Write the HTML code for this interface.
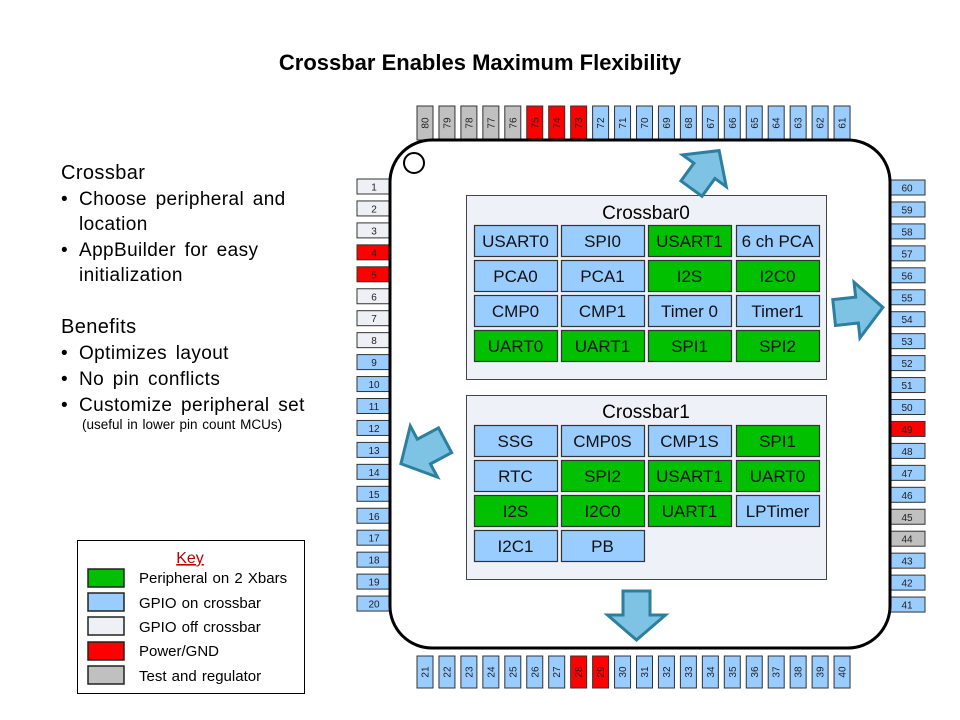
<!DOCTYPE html>
<html><head><meta charset="utf-8"><style>
body{margin:0;background:#fff;}
svg{display:block;font-family:"Liberation Sans",Arial,sans-serif;}
</style></head><body>
<svg width="960" height="720" viewBox="0 0 960 720" xmlns="http://www.w3.org/2000/svg">
<rect width="960" height="720" fill="#fff"/>
<text x="480" y="70" text-anchor="middle" font-size="22" font-weight="bold">Crossbar Enables Maximum Flexibility</text>

<!-- left text -->
<g font-size="19" fill="#000" letter-spacing="0.4" word-spacing="3">
<text x="61" y="179" font-size="20" word-spacing="0">Crossbar</text>
<text x="61" y="205">•</text><text x="79" y="205">Choose peripheral and</text>
<text x="79" y="230">location</text>
<text x="61" y="256">•</text><text x="79" y="256">AppBuilder for easy</text>
<text x="79" y="281">initialization</text>
<text x="61" y="333" font-size="20" word-spacing="0">Benefits</text>
<text x="61" y="359">•</text><text x="79" y="359">Optimizes layout</text>
<text x="61" y="385">•</text><text x="79" y="385">No pin conflicts</text>
<text x="61" y="411">•</text><text x="79" y="411">Customize peripheral set</text>
<text x="82" y="429" font-size="13.5" letter-spacing="0" word-spacing="1">(useful in lower pin count MCUs)</text>
</g>

<!-- key -->
<rect x="77.5" y="540.5" width="227" height="153" fill="#fff" stroke="#000" stroke-width="1"/>
<text x="190" y="563" text-anchor="middle" font-size="16" fill="#c00000" text-decoration="underline">Key</text>
<g stroke="#222" stroke-width="1.5">
<rect x="88" y="569" width="36" height="18" fill="#00c000"/>
<rect x="88" y="593" width="36" height="18" fill="#99ccff"/>
<rect x="88" y="617" width="36" height="18" fill="#eef0f5"/>
<rect x="88" y="642" width="36" height="18" fill="#ff0000"/>
<rect x="88" y="666" width="36" height="18" fill="#c0c0c0"/>
</g>
<g font-size="15" fill="#000" word-spacing="1">
<text x="139" y="583">Peripheral on 2 Xbars</text>
<text x="139" y="608">GPIO on crossbar</text>
<text x="139" y="632">GPIO off crossbar</text>
<text x="139" y="656">Power/GND</text>
<text x="139" y="681">Test and regulator</text>
</g>

<!-- pins -->
<g id="pins" stroke="#333" stroke-width="1" font-size="10" fill="#000"></g>

<!-- chip body -->
<rect x="390" y="140" width="500" height="508" rx="42" ry="42" fill="#fff" stroke="#000" stroke-width="3"/>
<circle cx="414" cy="163" r="10" fill="#fff" stroke="#000" stroke-width="2"/>

<!-- crossbar0 -->
<rect x="466.5" y="195.5" width="360" height="184" fill="#eef2f8" stroke="#444" stroke-width="1"/>
<text x="646" y="219" text-anchor="middle" font-size="19">Crossbar0</text>
<!-- crossbar1 -->
<rect x="466.5" y="395.5" width="360" height="184" fill="#eef2f8" stroke="#444" stroke-width="1"/>
<text x="646" y="418" text-anchor="middle" font-size="19">Crossbar1</text>
<g id="cells" stroke="#333" stroke-width="1.2" font-size="17"></g>

<!-- arrows -->
<g fill="#7ec3e3" stroke="#2d7fa0" stroke-width="3" stroke-linejoin="miter">
<polygon transform="translate(636.5,615.5) rotate(180)" points="0,-24.5 29,0.5 13.5,0.5 13.5,24.5 -13.5,24.5 -13.5,0.5 -29,0.5"/>
<polygon transform="translate(705,170) rotate(36)" points="0,-24 27,1 13,1 13,23 -13,23 -13,1 -27,1"/>
<polygon transform="translate(858,310) rotate(84)" points="0,-25 28,1 13,1 13,24 -13,24 -13,1 -28,1"/>
<polygon transform="translate(423,452) rotate(-118)" points="0,-25 29,1 14,1 14,25 -14,25 -14,1 -29,1"/>
</g>
</svg>
<script>
(function(){
var NS="http://www.w3.org/2000/svg";
var g=document.getElementById("pins");
var C={b:"#99ccff",g:"#c0c0c0",r:"#ff0000",w:"#eef0f5"};
function rect(x,y,w,h,f){var r=document.createElementNS(NS,"rect");r.setAttribute("x",x);r.setAttribute("y",y);r.setAttribute("width",w);r.setAttribute("height",h);r.setAttribute("fill",f);g.appendChild(r);}
function txt(x,y,s,rot){var t=document.createElementNS(NS,"text");t.setAttribute("x",x);t.setAttribute("y",y);t.setAttribute("text-anchor","middle");t.setAttribute("stroke","none");t.setAttribute("fill","#222");if(rot)t.setAttribute("transform","rotate(-90 "+x+" "+y+")");t.textContent=s;g.appendChild(t);}
var P=21.95;
for(var i=0;i<20;i++){var n=80-i;var c=n>=76?C.g:(n>=73?C.r:C.b);var x=417+i*P;rect(x,106,16,34,c);txt(x+8+3.5,123,n,true);}
for(var i=0;i<20;i++){var n=21+i;var c=(n==28||n==29)?C.r:C.b;var x=417+i*P;rect(x,656,16,32,c);txt(x+8+3.5,672,n,true);}
for(var i=0;i<20;i++){var n=1+i;var c=(n<=3||(n>=6&&n<=8))?C.w:((n==4||n==5)?C.r:C.b);var y=179+i*P;rect(357,y,34,15,c);txt(374,y+11.5,n,false);}
for(var i=0;i<20;i++){var n=60-i;var c=n==49?C.r:((n==45||n==44)?C.g:C.b);var y=180+i*P;rect(890,y,35,15,c);txt(907,y+11.5,n,false);}
var cg=document.getElementById("cells");
var cols=[474,561,648,736],w=83;
var B="#99ccff",G="#00c000";
var x0=[["USART0",B,"SPI0",B,"USART1",G,"6 ch PCA",B],["PCA0",B,"PCA1",B,"I2S",G,"I2C0",G],["CMP0",B,"CMP1",B,"Timer 0",B,"Timer1",B],["UART0",G,"UART1",G,"SPI1",G,"SPI2",G]];
var x1=[["SSG",B,"CMP0S",B,"CMP1S",B,"SPI1",G],["RTC",B,"SPI2",G,"USART1",G,"UART0",G],["I2S",G,"I2C0",G,"UART1",G,"LPTimer",B],["I2C1",B,"PB",B]];
function grid(d,ys){for(var r=0;r<d.length;r++){for(var k=0;k<d[r].length/2;k++){var x=cols[k],y=ys[r];var re=document.createElementNS(NS,"rect");re.setAttribute("x",x+.5);re.setAttribute("y",y+.5);re.setAttribute("width",w);re.setAttribute("height",31);re.setAttribute("fill",d[r][2*k+1]);cg.appendChild(re);var t=document.createElementNS(NS,"text");t.setAttribute("x",x+w/2);t.setAttribute("y",y+22);t.setAttribute("text-anchor","middle");t.setAttribute("stroke","none");t.setAttribute("fill","#111");t.textContent=d[r][2*k];cg.appendChild(t);}}}
grid(x0,[225,260,295,330]);
grid(x1,[425,460,495,530]);
})();
</script>
</body></html>
